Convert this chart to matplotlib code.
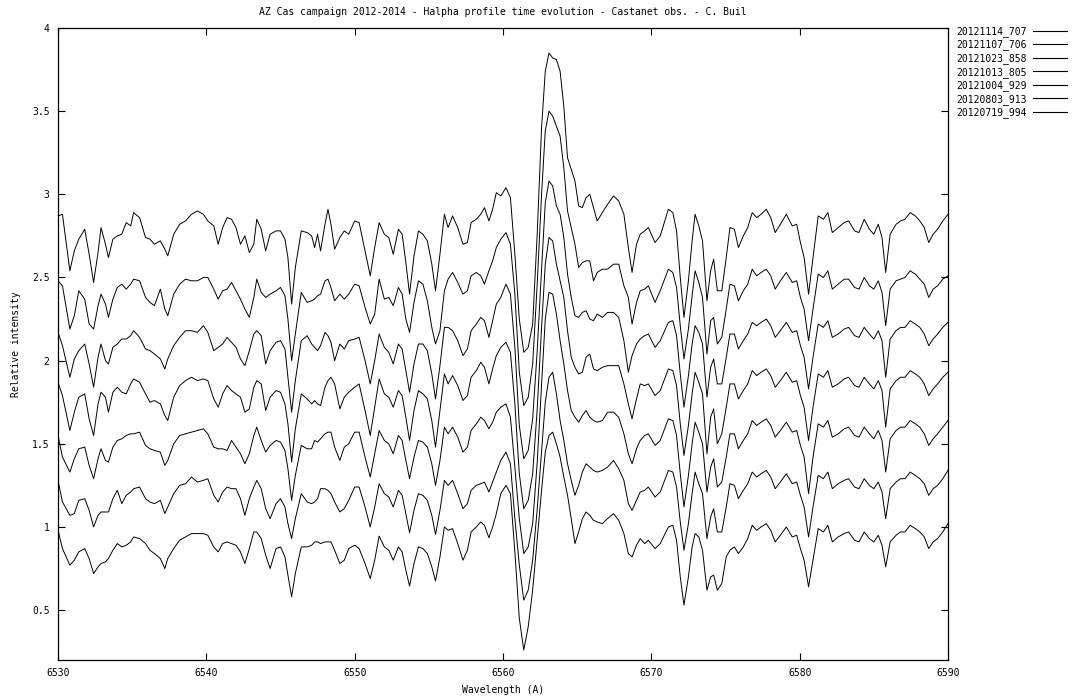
import matplotlib
matplotlib.use("Agg")
import matplotlib.pyplot as plt
from matplotlib.ticker import FuncFormatter

# ---------------- data ----------------
wavelength = [
    6530.0, 6530.3, 6530.8, 6531.1, 6531.4, 6531.8, 6532.1, 6532.4, 6532.7, 6532.9,
    6533.2, 6533.4, 6533.7, 6534.0, 6534.3, 6534.6, 6534.9, 6535.1, 6535.5, 6535.9,
    6536.2, 6536.5, 6536.9, 6537.2, 6537.4, 6537.8, 6538.2, 6538.6, 6539.0, 6539.4,
    6539.8, 6540.1, 6540.5, 6540.8, 6541.1, 6541.4, 6541.7, 6542.0, 6542.3, 6542.6,
    6542.9, 6543.2, 6543.4, 6543.7, 6544.0, 6544.3, 6544.7, 6545.0, 6545.3, 6545.5,
    6545.75, 6546.0, 6546.4, 6546.8, 6547.1, 6547.3, 6547.5, 6547.7, 6548.0, 6548.2,
    6548.4, 6548.65, 6549.0, 6549.3, 6549.6, 6550.0,
    6550.3, 6550.7, 6551.05, 6551.35, 6551.65, 6552.0, 6552.3, 6552.6, 6552.95, 6553.2,
    6553.45, 6553.7, 6554.0, 6554.3, 6554.6, 6554.9, 6555.2, 6555.45, 6555.75, 6556.05,
    6556.3, 6556.6, 6556.95, 6557.3, 6557.6, 6557.85, 6558.2, 6558.5, 6558.75, 6559.05,
    6559.3, 6559.55, 6559.85, 6560.2,
    6560.5, 6560.8, 6561.1, 6561.4, 6561.7, 6562.0, 6562.3, 6562.6, 6562.85, 6563.1,
    6563.35, 6563.6, 6563.85, 6564.1, 6564.35, 6564.6, 6564.85, 6565.1, 6565.35, 6565.6,
    6565.85, 6566.1, 6566.35, 6566.7, 6567.05, 6567.45, 6567.8, 6568.15, 6568.45, 6568.7,
    6569.0, 6569.25,
    6569.55, 6569.8, 6570.25, 6570.6, 6571.15, 6571.45, 6571.7, 6571.95, 6572.2, 6572.5,
    6572.75, 6572.95, 6573.2, 6573.45, 6573.75, 6574.0, 6574.2, 6574.45, 6574.75, 6575.05,
    6575.3, 6575.6, 6575.87, 6576.2, 6576.5, 6576.8, 6577.1, 6577.4, 6577.75, 6578.05,
    6578.35, 6578.7, 6579.1, 6579.5, 6579.8, 6580.05, 6580.3, 6580.6, 6580.9, 6581.25,
    6581.6, 6581.9, 6582.2, 6582.6, 6583.0, 6583.3, 6583.7, 6584.0, 6584.35, 6584.7,
    6585.0, 6585.3, 6585.55, 6585.8, 6586.1, 6586.5, 6586.8, 6587.1, 6587.45, 6587.8,
    6588.1, 6588.4, 6588.7, 6589.0, 6589.3, 6589.65, 6590.0,
]

s20121114_707 = [
    2.87, 2.88, 2.54, 2.66, 2.73, 2.79, 2.64, 2.47, 2.65, 2.80,
    2.70, 2.62, 2.73, 2.75, 2.76, 2.83, 2.81, 2.89, 2.86, 2.74,
    2.73, 2.70, 2.72, 2.67, 2.63, 2.76, 2.82, 2.84, 2.88, 2.90,
    2.88, 2.84, 2.81, 2.70, 2.80, 2.86, 2.85, 2.80, 2.70, 2.75,
    2.65, 2.70, 2.85, 2.79, 2.66, 2.76, 2.78, 2.78, 2.73, 2.62,
    2.34, 2.56, 2.78, 2.77, 2.75, 2.68, 2.76, 2.66, 2.82, 2.91,
    2.82, 2.67, 2.74, 2.78, 2.76, 2.84,
    2.83, 2.66, 2.51, 2.68, 2.83, 2.76, 2.74, 2.64, 2.79, 2.76,
    2.59, 2.40, 2.63, 2.78, 2.76, 2.72, 2.58, 2.42, 2.64, 2.88,
    2.80, 2.87, 2.80, 2.70, 2.71, 2.83, 2.85, 2.88, 2.92, 2.84,
    2.91, 3.01, 2.99, 3.04,
    2.98, 2.64, 2.25, 2.05, 2.08, 2.22, 2.75, 3.40, 3.74, 3.85,
    3.82, 3.81, 3.74, 3.53, 3.22, 3.15, 3.08, 2.93, 2.92, 2.98,
    3.00, 2.92, 2.84, 2.89, 2.94, 2.99, 2.96, 2.88, 2.68, 2.53,
    2.70, 2.76,
    2.78, 2.80, 2.71, 2.75, 2.91, 2.89, 2.78, 2.50, 2.26, 2.48,
    2.72, 2.88, 2.81, 2.72, 2.36, 2.54, 2.61, 2.42, 2.42, 2.62,
    2.80, 2.79, 2.68, 2.75, 2.80, 2.89, 2.86, 2.88, 2.91, 2.86,
    2.77, 2.82, 2.88, 2.81, 2.82, 2.71, 2.62, 2.40, 2.62, 2.87,
    2.85, 2.89, 2.77, 2.80, 2.83, 2.84, 2.78, 2.77, 2.85, 2.79,
    2.76, 2.82, 2.74, 2.53, 2.76, 2.82, 2.84, 2.85, 2.89, 2.87,
    2.84, 2.80, 2.71, 2.76, 2.79, 2.84, 2.88,
]

s20121107_706 = [
    2.48, 2.45, 2.19, 2.27, 2.42, 2.37, 2.22, 2.19, 2.33, 2.40,
    2.34, 2.26, 2.37, 2.44, 2.46, 2.43, 2.46, 2.49, 2.48, 2.38,
    2.35, 2.33, 2.43, 2.31, 2.27, 2.40, 2.46, 2.49, 2.48, 2.48,
    2.50, 2.50, 2.43, 2.37, 2.42, 2.43, 2.47, 2.42, 2.37, 2.31,
    2.26, 2.38, 2.49, 2.41, 2.38, 2.40, 2.42, 2.44, 2.39, 2.25,
    2.00, 2.16, 2.41, 2.35, 2.36, 2.37, 2.39, 2.40, 2.48, 2.49,
    2.44, 2.36, 2.40, 2.37, 2.40, 2.46,
    2.45, 2.32, 2.22, 2.28, 2.49, 2.37, 2.38, 2.33, 2.44, 2.40,
    2.25, 2.17, 2.35, 2.48, 2.46, 2.36, 2.20, 2.10, 2.18, 2.42,
    2.49, 2.53, 2.47, 2.40, 2.42, 2.51, 2.53, 2.51, 2.46, 2.54,
    2.60, 2.68, 2.73, 2.77,
    2.70, 2.40, 1.93, 1.73, 1.78, 1.98, 2.45, 3.00, 3.38, 3.50,
    3.47, 3.41, 3.35, 3.16, 2.90, 2.80, 2.70, 2.56, 2.59, 2.60,
    2.60, 2.48, 2.53, 2.55, 2.55, 2.58, 2.58, 2.45, 2.38, 2.22,
    2.35, 2.42,
    2.43, 2.45, 2.35, 2.42, 2.55, 2.53, 2.44, 2.21, 2.01, 2.19,
    2.39, 2.54, 2.47, 2.38, 2.04, 2.24, 2.26, 2.10, 2.14, 2.31,
    2.46, 2.45, 2.36, 2.42, 2.46, 2.55, 2.51, 2.53, 2.55, 2.51,
    2.43, 2.48, 2.53, 2.47, 2.48, 2.38, 2.31, 2.12, 2.31, 2.52,
    2.50, 2.54, 2.43, 2.46, 2.49, 2.49, 2.44, 2.43, 2.50, 2.45,
    2.43, 2.48, 2.41, 2.21, 2.43, 2.48, 2.49, 2.50, 2.54, 2.52,
    2.49, 2.46, 2.38, 2.43, 2.45, 2.49, 2.51,
]

s20121023_858 = [
    2.17, 2.09, 1.90, 2.01, 2.06, 2.10, 1.98, 1.84, 2.02, 2.10,
    2.00, 1.98, 2.08, 2.10, 2.13, 2.13, 2.15, 2.18, 2.14, 2.07,
    2.06, 2.04, 2.01, 1.95, 2.01, 2.09, 2.14, 2.18, 2.18, 2.17,
    2.21, 2.17, 2.06, 2.08, 2.10, 2.14, 2.11, 2.08, 2.01, 1.97,
    2.06, 2.16, 2.18, 2.15, 1.98, 2.06, 2.11, 2.12, 2.07, 1.90,
    1.69, 1.88, 2.12, 2.15, 2.10, 2.08, 2.06, 2.09, 2.17, 2.15,
    2.11, 2.00, 2.10, 2.07, 2.12, 2.13,
    2.14, 2.00, 1.86, 2.00, 2.16, 2.08, 2.05, 1.98, 2.10, 2.07,
    1.94, 1.81, 1.98, 2.10, 2.10, 2.06, 1.92, 1.77, 1.97, 2.20,
    2.20, 2.18, 2.12, 2.03, 2.07, 2.18, 2.22, 2.26, 2.24, 2.14,
    2.24, 2.34, 2.38, 2.46,
    2.40, 2.08, 1.61, 1.41, 1.46, 1.65, 2.05, 2.55, 2.95, 3.08,
    3.05, 2.93, 2.88, 2.74, 2.52, 2.38, 2.27, 2.26, 2.29, 2.30,
    2.25, 2.24, 2.28, 2.26, 2.29, 2.29, 2.26, 2.12, 1.93, 2.03,
    2.10, 2.13,
    2.15, 2.16, 2.08, 2.12, 2.23, 2.24, 2.15, 1.92, 1.72, 1.91,
    2.10, 2.21, 2.17, 2.10, 1.78, 1.96, 2.01, 1.86, 1.86, 2.02,
    2.16, 2.16, 2.07, 2.12, 2.16, 2.23, 2.21, 2.23, 2.25, 2.21,
    2.14, 2.18, 2.23, 2.17, 2.18, 2.09, 2.02, 1.83, 2.02, 2.22,
    2.20, 2.24, 2.14, 2.16, 2.19, 2.20, 2.15, 2.14, 2.20, 2.16,
    2.13, 2.18, 2.12, 1.90, 2.13, 2.18, 2.20, 2.20, 2.24, 2.22,
    2.20, 2.16, 2.09, 2.13, 2.16, 2.20, 2.23,
]

s20121013_805 = [
    1.87, 1.79, 1.58, 1.69, 1.78, 1.80, 1.65, 1.55, 1.74, 1.81,
    1.78, 1.69, 1.81, 1.84, 1.81, 1.80, 1.86, 1.89, 1.87, 1.80,
    1.75, 1.76, 1.74, 1.67, 1.64, 1.78, 1.85, 1.88, 1.90, 1.88,
    1.89, 1.88, 1.77, 1.72, 1.80, 1.85, 1.82, 1.80, 1.78, 1.69,
    1.71, 1.84, 1.88, 1.86, 1.70, 1.78, 1.82, 1.81, 1.74, 1.62,
    1.39, 1.59, 1.80, 1.77, 1.74, 1.76, 1.74, 1.73, 1.84, 1.88,
    1.90, 1.86, 1.71, 1.78, 1.81, 1.84,
    1.86, 1.70, 1.55, 1.72, 1.89, 1.80, 1.78, 1.72, 1.82, 1.79,
    1.66, 1.52, 1.70, 1.82, 1.80, 1.77, 1.64, 1.48, 1.70, 1.92,
    1.86, 1.91, 1.85, 1.76, 1.79, 1.90, 1.94, 1.99, 1.96, 1.86,
    1.95, 2.03, 2.08, 2.11,
    2.05, 1.74, 1.32, 1.11, 1.16, 1.32, 1.70, 2.20, 2.58, 2.74,
    2.72, 2.58, 2.48, 2.38, 2.18, 2.02, 1.96, 1.92, 1.93, 2.02,
    2.04, 1.95, 1.94, 1.96, 1.97, 1.97, 1.97, 1.86, 1.74, 1.65,
    1.77, 1.86,
    1.85, 1.86, 1.79, 1.82, 1.95, 1.94, 1.85, 1.62, 1.43, 1.61,
    1.80, 1.93, 1.87, 1.80, 1.44, 1.66, 1.71, 1.50, 1.56, 1.72,
    1.86, 1.86, 1.77, 1.82, 1.86, 1.94, 1.91, 1.93, 1.95, 1.91,
    1.84, 1.88, 1.93, 1.87, 1.88, 1.79, 1.72, 1.52, 1.72, 1.92,
    1.90, 1.94, 1.84, 1.86, 1.89, 1.90, 1.85, 1.84, 1.90, 1.86,
    1.83, 1.88, 1.82, 1.60, 1.83, 1.88, 1.90, 1.90, 1.94, 1.92,
    1.90, 1.86, 1.79, 1.83, 1.86, 1.90, 1.93,
]

s20121004_929 = [
    1.55, 1.42, 1.33, 1.41, 1.47, 1.48, 1.37, 1.29, 1.41, 1.47,
    1.40, 1.39, 1.48, 1.52, 1.53, 1.55, 1.56, 1.56, 1.57, 1.49,
    1.47, 1.46, 1.45, 1.37, 1.40, 1.50, 1.55, 1.56, 1.57, 1.58,
    1.59, 1.56, 1.48, 1.47, 1.47, 1.46, 1.52, 1.48, 1.44, 1.38,
    1.44, 1.55, 1.60, 1.52, 1.45, 1.49, 1.52, 1.51, 1.46, 1.35,
    1.16, 1.31, 1.49, 1.47, 1.47, 1.52, 1.51, 1.53, 1.56, 1.57,
    1.57, 1.48, 1.40, 1.48, 1.50, 1.57,
    1.57, 1.42, 1.30, 1.44, 1.58, 1.52, 1.50, 1.44, 1.55, 1.52,
    1.40, 1.29, 1.42, 1.52, 1.51, 1.48, 1.38, 1.25, 1.40, 1.60,
    1.56, 1.60, 1.54, 1.45, 1.48, 1.58, 1.62, 1.66, 1.64, 1.59,
    1.63, 1.69, 1.72, 1.74,
    1.66, 1.36, 1.05, 0.84, 0.88, 1.02, 1.38, 1.85, 2.25, 2.41,
    2.40, 2.28, 2.12, 1.98, 1.82, 1.70, 1.66, 1.63, 1.67, 1.70,
    1.66, 1.64, 1.63, 1.64, 1.69, 1.69, 1.66, 1.56, 1.44, 1.38,
    1.47, 1.52,
    1.55, 1.56, 1.49, 1.52, 1.65, 1.64, 1.55, 1.32, 1.12, 1.31,
    1.50, 1.63, 1.57, 1.50, 1.21, 1.36, 1.41, 1.24, 1.27, 1.42,
    1.56, 1.56, 1.47, 1.52, 1.56, 1.64, 1.61, 1.63, 1.65, 1.61,
    1.54, 1.58, 1.63, 1.57, 1.58, 1.49, 1.42, 1.20, 1.42, 1.62,
    1.60, 1.64, 1.54, 1.56, 1.59, 1.60, 1.55, 1.54, 1.60, 1.56,
    1.53, 1.58, 1.52, 1.33, 1.53, 1.58, 1.60, 1.60, 1.64, 1.62,
    1.60, 1.56, 1.49, 1.53, 1.56, 1.60, 1.64,
]

s20120803_913 = [
    1.28, 1.15, 1.07, 1.08, 1.16, 1.17, 1.10, 1.00, 1.07, 1.09,
    1.09, 1.09, 1.17, 1.22, 1.14, 1.19, 1.21, 1.23, 1.24, 1.17,
    1.15, 1.14, 1.16, 1.08, 1.12, 1.20, 1.25, 1.26, 1.30, 1.27,
    1.28, 1.29, 1.19, 1.15, 1.21, 1.24, 1.23, 1.23, 1.17, 1.07,
    1.17, 1.24, 1.28, 1.23, 1.11, 1.05, 1.14, 1.17, 1.12, 1.02,
    0.93, 1.05, 1.20, 1.15, 1.14, 1.15, 1.17, 1.23, 1.23, 1.22,
    1.20, 1.15, 1.09, 1.11, 1.16, 1.24,
    1.24, 1.12, 1.00, 1.12, 1.26, 1.20, 1.18, 1.12, 1.22, 1.19,
    1.08, 0.965, 1.10, 1.20, 1.19, 1.16, 1.07, 0.955, 1.10, 1.28,
    1.25, 1.28, 1.20, 1.11, 1.14, 1.22, 1.25, 1.26, 1.27, 1.21,
    1.27, 1.33, 1.40, 1.45,
    1.38, 1.05, 0.77, 0.56, 0.62, 0.80, 1.10, 1.45, 1.75, 1.90,
    1.93, 1.80, 1.64, 1.52, 1.38, 1.28, 1.19, 1.25, 1.33, 1.38,
    1.36, 1.34, 1.33, 1.34, 1.36, 1.40, 1.35, 1.28, 1.14, 1.10,
    1.16, 1.21,
    1.22, 1.24, 1.18, 1.21, 1.34, 1.33, 1.24, 1.03, 0.86, 1.02,
    1.20, 1.33, 1.26, 1.20, 0.93, 1.06, 1.11, 0.97, 0.97, 1.12,
    1.26, 1.25, 1.17, 1.22, 1.26, 1.33, 1.30, 1.32, 1.34, 1.30,
    1.23, 1.27, 1.32, 1.26, 1.27, 1.19, 1.12, 0.94, 1.12, 1.31,
    1.29, 1.33, 1.23, 1.26, 1.28, 1.29, 1.24, 1.23, 1.29, 1.25,
    1.23, 1.27, 1.21, 1.05, 1.23, 1.27, 1.29, 1.29, 1.33, 1.31,
    1.29, 1.26, 1.19, 1.23, 1.25, 1.29, 1.34,
]

s20120719_994 = [
    0.98, 0.87, 0.77, 0.80, 0.85, 0.87, 0.81, 0.72, 0.76, 0.78,
    0.79, 0.81, 0.86, 0.90, 0.88, 0.89, 0.91, 0.94, 0.93, 0.90,
    0.86, 0.84, 0.81, 0.75, 0.81, 0.87, 0.92, 0.94, 0.96, 0.96,
    0.96, 0.95, 0.88, 0.85, 0.90, 0.91, 0.90, 0.89, 0.85, 0.78,
    0.87, 0.97, 0.97, 0.93, 0.83, 0.75, 0.87, 0.88, 0.82, 0.71,
    0.58, 0.72, 0.88, 0.88, 0.89, 0.91, 0.91, 0.90, 0.91, 0.91,
    0.91, 0.86, 0.78, 0.80, 0.87, 0.89,
    0.87, 0.78, 0.69, 0.80, 0.945, 0.88, 0.86, 0.80, 0.88, 0.85,
    0.74, 0.644, 0.78, 0.88, 0.87, 0.84, 0.76, 0.675, 0.82, 1.00,
    0.98, 0.99, 0.90, 0.80, 0.86, 0.97, 1.00, 1.03, 1.01, 0.935,
    1.00, 1.08, 1.20, 1.25,
    1.20, 0.85, 0.45, 0.26, 0.40, 0.62, 0.92, 1.22, 1.45, 1.55,
    1.57, 1.50, 1.42, 1.30, 1.19, 1.05, 0.90, 0.97, 1.05, 1.09,
    1.07, 1.04, 1.03, 1.02, 1.05, 1.08, 1.04, 0.96, 0.84, 0.82,
    0.89, 0.93,
    0.90, 0.92, 0.87, 0.90, 1.00, 1.01, 0.92, 0.70, 0.53, 0.70,
    0.88, 0.96, 0.94, 0.86, 0.62, 0.70, 0.71, 0.62, 0.66, 0.82,
    0.86, 0.88, 0.84, 0.88, 0.93, 1.01, 0.98, 1.00, 1.02, 0.98,
    0.91, 0.95, 1.00, 0.94, 0.95, 0.87, 0.80, 0.64, 0.80, 0.99,
    0.97, 1.01, 0.91, 0.94, 0.96, 0.97, 0.92, 0.91, 0.97, 0.93,
    0.91, 0.95, 0.89, 0.76, 0.91, 0.95, 0.97, 0.97, 1.01, 0.99,
    0.97, 0.94, 0.87, 0.91, 0.93, 0.97, 1.02,
]

series_labels = ["20121114_707", "20121107_706", "20121023_858", "20121013_805",
                 "20121004_929", "20120803_913", "20120719_994"]
series_values = [s20121114_707, s20121107_706, s20121023_858, s20121013_805,
                 s20121004_929, s20120803_913, s20120719_994]

x_ticks = [6530, 6540, 6550, 6560, 6570, 6580, 6590]
y_ticks = [0.5, 1.0, 1.5, 2.0, 2.5, 3.0, 3.5, 4.0]

title = "AZ Cas campaign 2012-2014 - Halpha profile time evolution - Castanet obs. - C. Buil"
xlabel = "Wavelength (A)"
ylabel = "Relative intensity"

# ---------------- drawing ----------------
plt.rcParams['font.family'] = ['DejaVu Sans Mono', 'DejaVu Sans']
FS = 7

fig = plt.figure(figsize=(10.8, 7.0), dpi=100)
L, R, T, B = 58, 948, 28, 660
ax = fig.add_axes([L / 1080, 1 - B / 700, (R - L) / 1080, (B - T) / 700])

for lab, vals in zip(series_labels, series_values):
    ax.plot(wavelength, vals, color='black', lw=0.7, label=lab)

ax.set_xlim(6530, 6590)
ax.set_ylim(0.2, 4.0)
ax.set_xticks(x_ticks)
ax.set_yticks(y_ticks)
ax.yaxis.set_major_formatter(FuncFormatter(lambda v, p: "%g" % v))
ax.xaxis.set_major_formatter(FuncFormatter(lambda v, p: "%g" % v))
ax.tick_params(direction='in', length=5, width=0.8, top=True, right=True,
               labelsize=FS, pad=6, color='black')
for sp in ax.spines.values():
    sp.set_linewidth(0.9)

fig.text((L + R) / 2 / 1080, 1 - 12 / 700, title, ha='center', va='center', fontsize=FS)
fig.text((L + R) / 2 / 1080, 1 - 690 / 700, xlabel, ha='center', va='center', fontsize=FS)
fig.text(16 / 1080, 1 - (T + B) / 2 / 700, ylabel, ha='center', va='center',
         rotation=90, fontsize=FS)

leg = fig.legend(loc='upper left', bbox_to_anchor=(956 / 1080, 1 - 26 / 700),
                 frameon=False, fontsize=FS, markerfirst=False, handlelength=3.5,
                 handletextpad=0.7, labelspacing=0.27, borderpad=0, borderaxespad=0)
for h in leg.get_lines():
    h.set_linewidth(0.8)

fig.savefig("out.png", dpi=100)
